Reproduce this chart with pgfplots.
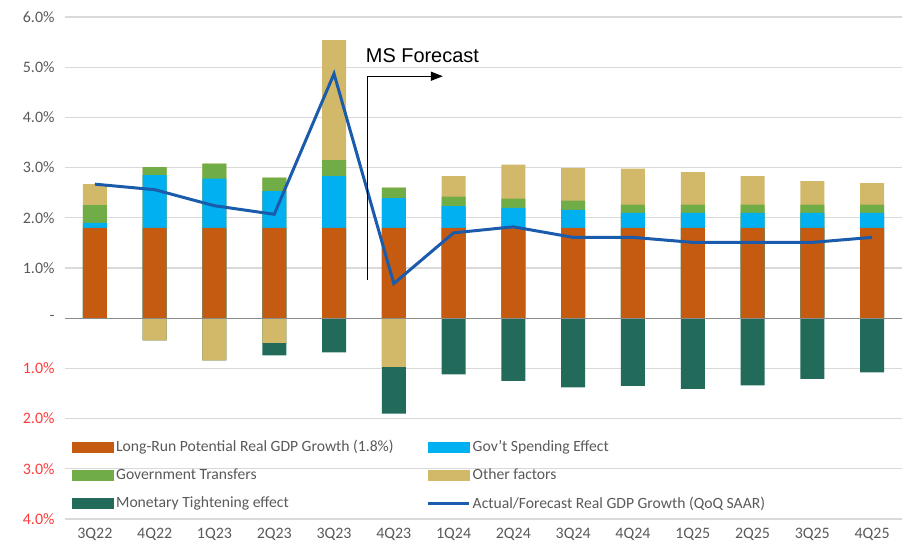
\documentclass[border=0pt]{standalone}
\usepackage{pgfplots}
\usepackage{pgfplotstable}
\pgfplotsset{compat=1.18}
\usetikzlibrary{arrows.meta}
\usepackage{fontspec}
\setmainfont{Carlito}
\newfontfamily\arialfont{Liberation Sans}
\definecolor{cOrange}{HTML}{C55A11}
\definecolor{cCyan}{HTML}{00B0F0}
\definecolor{cGreen}{HTML}{70AD47}
\definecolor{cTan}{HTML}{D2B96A}
\definecolor{cDark}{HTML}{226B5A}
\definecolor{cLine}{HTML}{1A5CAB}
\definecolor{cGrid}{HTML}{D9D9D9}
\definecolor{cTick}{HTML}{595959}
\definecolor{cRed}{HTML}{FF3B3B}
\definecolor{cZero}{HTML}{8C8C8C}

% cumulative tops of the stacked segments
\pgfplotstableread{
x tot gtop ctop orange negall negtan line
0  2.67 2.25 1.90 1.8  0     0     2.67
1  3.01 3.01 2.85 1.8 -0.44 -0.44  2.56
2  3.08 3.08 2.78 1.8 -0.84 -0.84  2.24
3  2.80 2.80 2.53 1.8 -0.74 -0.49  2.07
4  5.54 3.15 2.83 1.8 -0.68  0     4.87
5  2.60 2.60 2.39 1.8 -1.90 -0.97  0.69
6  2.83 2.42 2.23 1.8 -1.12  0     1.70
7  3.06 2.38 2.20 1.8 -1.25  0     1.82
8  2.99 2.34 2.16 1.8 -1.38  0     1.61
9  2.98 2.26 2.10 1.8 -1.35  0     1.61
10 2.91 2.26 2.10 1.8 -1.41  0     1.51
11 2.83 2.26 2.10 1.8 -1.34  0     1.51
12 2.73 2.26 2.10 1.8 -1.21  0     1.51
13 2.69 2.26 2.10 1.8 -1.08  0     1.61
}\datatable

\begin{document}
\begin{tikzpicture}
\begin{axis}[
  name=ax,
  scale only axis, width=837bp, height=502bp,
  xmin=-0.5, xmax=13.5, ymin=-4, ymax=6,
  ybar, bar width=24bp, bar shift=0pt,
  axis line style={draw=none}, major tick length=0pt,
  ymajorgrids, grid style={cGrid, line width=1.3bp},
  ytick={-4,-3,-2,-1,0,1,2,3,4,5,6},
  yticklabels={\textcolor{cRed}{4.0\%},\textcolor{cRed}{3.0\%},\textcolor{cRed}{2.0\%},\textcolor{cRed}{1.0\%},-,1.0\%,2.0\%,3.0\%,4.0\%,5.0\%,6.0\%},
  xtick={0,...,13},
  xticklabels={3Q22,4Q22,1Q23,2Q23,3Q23,4Q23,1Q24,2Q24,3Q24,4Q24,1Q25,2Q25,3Q25,4Q25},
  tick label style={font=\fontsize{16}{18}\selectfont, text=cTick},
  yticklabel style={xshift=-7bp},
  xticklabel style={yshift=-6bp},
  legend columns=2,
  legend cell align=left,
  legend style={at={(axis description cs:0.0084,0.162)}, anchor=north west,
    draw=none, fill=none, inner sep=0pt, row sep=10.5bp,
    font=\fontsize{15.7}{18}\selectfont, text=cTick,
    nodes={inner sep=2.5bp},
    /tikz/every even column/.append style={column sep=30bp}},
]
\addplot[fill=cTan, draw=none, forget plot] table[x=x, y=tot] {\datatable};
\addplot[fill=cGreen, draw=none, forget plot] table[x=x, y=gtop] {\datatable};
\addplot[fill=cCyan, draw=none, forget plot] table[x=x, y=ctop] {\datatable};
\addplot[fill=cOrange, draw=none, forget plot] table[x=x, y=orange] {\datatable};
\addplot[fill=cDark, draw=none, forget plot] table[x=x, y=negall] {\datatable};
\addplot[fill=cTan, draw=none, forget plot] table[x=x, y=negtan] {\datatable};
\draw[cZero, line width=1.3bp] (axis cs:-0.5,0) -- (axis cs:13.5,0);
\addplot[sharp plot, cLine, line width=3bp, mark=none, forget plot] table[x=x, y=line] {\datatable};

\addlegendimage{legend image code/.code={\fill[cOrange] (0bp,-5bp) rectangle (41bp,5bp);}}
\addlegendentry{Long-Run Potential Real GDP Growth (1.8\%)}
\addlegendimage{legend image code/.code={\fill[cCyan] (0bp,-5bp) rectangle (41bp,5bp);}}
\addlegendentry{Gov't Spending Effect}
\addlegendimage{legend image code/.code={\fill[cGreen] (0bp,-5bp) rectangle (41bp,5bp);}}
\addlegendentry{Government Transfers}
\addlegendimage{legend image code/.code={\fill[cTan] (0bp,-5bp) rectangle (41bp,5bp);}}
\addlegendentry{Other factors}
\addlegendimage{legend image code/.code={\fill[cDark] (0bp,-5bp) rectangle (41bp,5bp);}}
\addlegendentry{Monetary Tightening  effect}
\addlegendimage{legend image code/.code={\draw[cLine, line width=3bp] (0bp,0bp) -- (41bp,0bp);}}
\addlegendentry{Actual/Forecast Real GDP Growth (QoQ SAAR)}

\draw[black, line width=1.3bp, -{Triangle[length=12bp, width=9bp]}]
  (axis cs:4.56,0.76) -- (axis cs:4.56,4.82) -- (axis cs:5.82,4.82);
\node[anchor=west, inner sep=0pt, font=\arialfont\fontsize{20}{24}\selectfont]
  at (axis cs:4.53,5.24) {MS Forecast};
\end{axis}
\pgfresetboundingbox
\path ([shift={(-65bp,-27bp)}]ax.south west) rectangle ([shift={(5bp,17bp)}]ax.north east);
\end{tikzpicture}
\end{document}
